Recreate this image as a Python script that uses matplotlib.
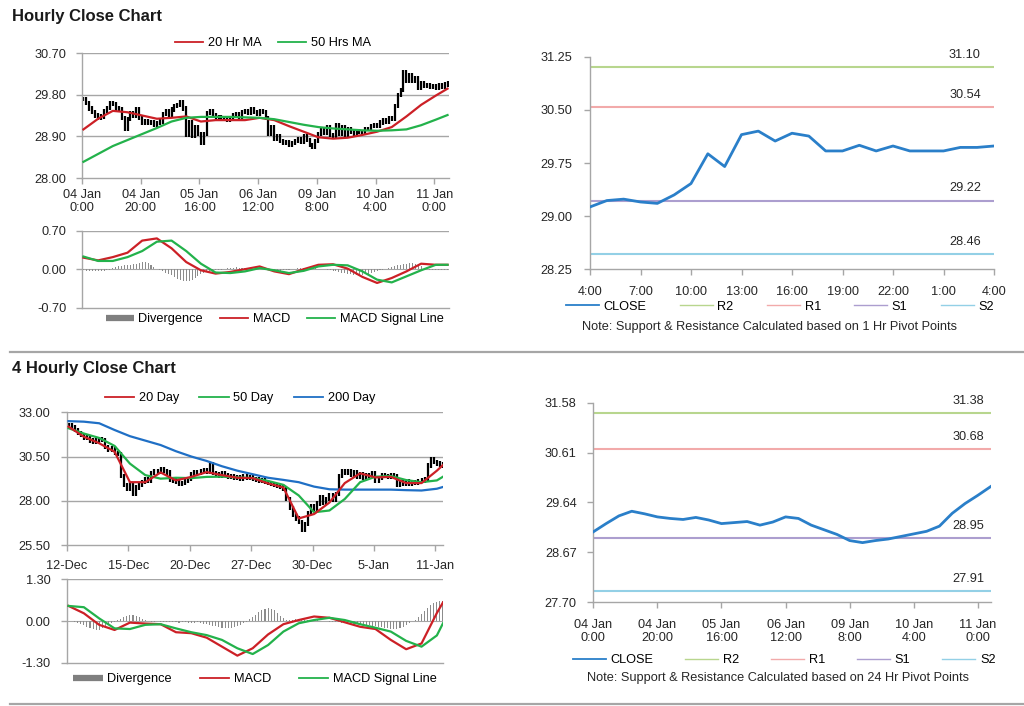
import matplotlib
matplotlib.use('Agg')
import matplotlib.pyplot as plt
from matplotlib.lines import Line2D
import numpy as np

plt.rcParams['font.family'] = ['Liberation Sans', 'DejaVu Sans']
FS = 9.2
plt.rcParams['font.size'] = FS

W, H = 1024, 706

# ---------------- data ----------------
# hourly bars (closes), 125 bars
h_close = [
    29.70, 29.62, 29.50, 29.42, 29.35, 29.30, 29.33, 29.45, 29.52, 29.62,
    29.60, 29.50, 29.48, 29.30, 29.05, 29.28, 29.40, 29.35, 29.48, 29.30,
    29.20, 29.22, 29.18, 29.20, 29.15, 29.18, 29.22, 29.38, 29.45, 29.35,
    29.48, 29.55, 29.58, 29.65, 29.50, 28.92, 29.20, 28.90, 29.10, 28.95,
    28.75, 28.95, 29.40, 29.45, 29.35, 29.30, 29.32, 29.28, 29.30, 29.25,
    29.30, 29.35, 29.38, 29.32, 29.42, 29.45, 29.40, 29.48, 29.42, 29.38,
    29.45, 29.42, 29.30, 28.95, 29.10, 28.85, 28.90, 28.80, 28.75, 28.78,
    28.72, 28.75, 28.80, 28.85, 28.78, 28.90, 28.82, 28.72, 28.68, 28.80,
    28.95, 29.05, 28.98, 29.10, 28.92, 28.88, 29.15, 28.95, 29.10, 28.90,
    29.05, 29.00, 28.95, 29.02, 29.00, 28.98, 29.05, 29.05, 29.12, 29.15,
    29.12, 29.20, 29.25, 29.22, 29.30, 29.28, 29.55, 29.80, 29.90, 30.28,
    30.10, 30.22, 30.10, 30.15, 29.95, 30.05, 29.98, 30.00, 29.97, 29.98,
    29.95, 30.00, 29.97, 30.02, 30.05]

h_ma_idx = [0, 5, 10, 15, 20, 25, 30, 35, 40, 45, 50, 55, 60, 65, 70, 75,
            80, 85, 90, 95, 100, 105, 110, 115, 120, 124]
h_ma20 = [29.05, 29.28, 29.45, 29.42, 29.35, 29.28, 29.30, 29.33, 29.22, 29.25,
          29.25, 29.25, 29.30, 29.25, 29.12, 29.00, 28.88, 28.85, 28.87, 28.93,
          29.00, 29.10, 29.33, 29.58, 29.78, 29.93]
h_ma50 = [28.35, 28.52, 28.69, 28.82, 28.95, 29.08, 29.22, 29.30, 29.32, 29.32,
          29.32, 29.31, 29.30, 29.27, 29.21, 29.15, 29.10, 29.07, 29.05, 29.03,
          29.02, 29.03, 29.05, 29.14, 29.26, 29.36]

h_macd = [0.21, 0.16, 0.22, 0.30, 0.52, 0.56, 0.38, 0.13, -0.02, -0.08,
          -0.05, 0.00, 0.05, -0.04, -0.09, 0.00, 0.08, 0.09, 0.01, -0.14,
          -0.25, -0.16, -0.04, 0.10, 0.08, 0.08]
h_signal = [0.23, 0.15, 0.15, 0.22, 0.33, 0.50, 0.52, 0.33, 0.10, -0.06,
            -0.07, -0.04, 0.02, -0.02, -0.07, -0.03, 0.05, 0.08, 0.07, -0.04,
            -0.19, -0.24, -0.13, -0.02, 0.08, 0.08]
h_div = [
    -0.02, -0.03, -0.03, -0.04, -0.04, -0.04, -0.03, -0.03, -0.02, -0.01,
    0.02, 0.04, 0.05, 0.06, 0.07, 0.08, 0.08, 0.09, 0.10, 0.11, 0.13, 0.14, 0.12, 0.08,
    0.04, 0.01, -0.01, -0.03,
    -0.06, -0.09, -0.11, -0.14, -0.17, -0.19, -0.21, -0.22, -0.21, -0.19, -0.16, -0.12, -0.09, -0.06,
    -0.04, -0.03, -0.02, -0.02, -0.01, -0.01, 0.00,
    0.02, 0.03, 0.03, 0.04, 0.03, 0.02, 0.02, 0.01, 0.01, 0.00,
    0.01, 0.02, 0.02, 0.01, -0.01, -0.02, -0.02, -0.03, -0.03, -0.02, -0.02, -0.01, 0.00, 0.01, 0.02, 0.03, 0.03,
    0.03, 0.03, 0.02, 0.02, 0.01, 0.01, 0.00,
    -0.01, -0.02, -0.03, -0.04, -0.05, -0.06, -0.07, -0.08, -0.09, -0.10, -0.11, -0.11, -0.10, -0.09, -0.08,
    -0.06, -0.05, -0.04, -0.02, -0.01, 0.00,
    0.02, 0.04, 0.05, 0.07, 0.08, 0.09, 0.10, 0.11, 0.11, 0.10, 0.08, 0.06, 0.03,
    0.01, -0.01, -0.02, -0.02, -0.02, -0.01, -0.02, -0.01]

h_ticklabels = ['04 Jan\n0:00', '04 Jan\n20:00', '05 Jan\n16:00', '06 Jan\n12:00',
                '09 Jan\n8:00', '10 Jan\n4:00', '11 Jan\n0:00']

# 1 hr pivot chart
p1_labels = ['4:00', '7:00', '10:00', '13:00', '16:00', '19:00', '22:00', '1:00', '4:00']
p1_close = [29.13, 29.22, 29.24, 29.20, 29.18, 29.30, 29.46, 29.88, 29.70, 30.15,
            30.20, 30.06, 30.17, 30.13, 29.92, 29.92, 30.00, 29.92, 29.99, 29.92,
            29.92, 29.92, 29.97, 29.97, 29.99]
p1_levels = {'R2': 31.10, 'R1': 30.54, 'S1': 29.22, 'S2': 28.46}

# 4 hourly bars, 123 bars
f_close = [
    32.30, 32.15, 32.00, 31.85, 31.70, 31.55, 31.60, 31.40, 31.35, 31.40,
    31.50, 31.45, 31.05, 30.85, 30.95, 30.70, 30.65, 29.40, 28.90, 28.70,
    28.95, 28.40, 28.75, 28.90, 29.05, 29.20, 29.15, 29.55, 29.70, 29.65,
    29.80, 29.70, 29.60, 29.20, 29.15, 29.05, 28.95, 29.00, 29.10, 29.25,
    29.50, 29.60, 29.55, 29.70, 29.75, 29.65, 30.05, 29.55, 29.50, 29.40,
    29.55, 29.45, 29.35, 29.40, 29.30, 29.35, 29.25, 29.40, 29.30, 29.35,
    29.25, 29.20, 29.10, 29.15, 29.05, 29.00, 28.95, 28.90, 28.85, 28.80,
    28.65, 28.10, 27.60, 27.20, 27.00, 26.80, 26.35, 26.70, 27.30, 27.70,
    27.55, 27.85, 28.20, 27.90, 28.10, 28.30, 28.05, 28.40, 29.40, 29.70,
    29.55, 29.70, 29.45, 29.60, 29.35, 29.50, 29.30, 29.45, 29.40, 29.55,
    29.10, 29.30, 29.45, 29.40, 29.35, 29.45, 29.40, 28.90, 29.05, 28.95,
    29.10, 28.95, 29.05, 29.00, 29.10, 29.15, 29.25, 30.00, 30.35, 30.20,
    30.10, 30.05, 30.00]

f_ma_idx = [0, 5, 10, 15, 20, 25, 30, 35, 40, 45, 50, 55, 60, 65, 70, 75,
            80, 85, 90, 95, 100, 105, 110, 115, 120, 122]
f_ma20 = [32.19, 31.62, 31.25, 30.77, 29.05, 29.05, 29.60, 29.15, 29.35, 29.62,
          29.45, 29.30, 29.28, 28.98, 28.75, 27.00, 27.25, 27.90, 29.00, 29.55,
          29.32, 29.35, 29.00, 29.00, 29.70, 30.02]
f_ma50 = [32.10, 31.80, 31.55, 31.10, 30.10, 29.45, 29.25, 29.30, 29.28, 29.35,
          29.36, 29.32, 29.28, 29.12, 28.90, 28.30, 27.35, 27.45, 28.10, 29.05,
          29.36, 29.40, 29.17, 29.05, 29.15, 29.36]
f_ma200 = [32.50, 32.47, 32.38, 32.00, 31.65, 31.40, 31.15, 30.80, 30.50, 30.25,
           29.95, 29.70, 29.50, 29.30, 29.18, 29.05, 28.80, 28.65, 28.63, 28.63,
           28.63, 28.63, 28.60, 28.58, 28.68, 28.78]

f_macd = [0.47, 0.24, -0.12, -0.28, -0.05, -0.08, -0.10, -0.35, -0.38, -0.52,
          -0.80, -1.08, -0.85, -0.42, -0.10, 0.03, 0.14, 0.10, -0.04, -0.18,
          -0.25, -0.59, -0.88, -0.70, 0.25, 0.58]
f_signal = [0.47, 0.43, 0.08, -0.23, -0.25, -0.12, -0.10, -0.23, -0.35, -0.44,
            -0.59, -0.85, -1.03, -0.75, -0.33, -0.07, 0.03, 0.10, 0.03, -0.10,
            -0.21, -0.33, -0.62, -0.80, -0.45, -0.07]
f_div = [
    0.00, -0.01, -0.03,
    -0.06, -0.10, -0.14, -0.18, -0.22, -0.25, -0.28, -0.27,
    -0.22, -0.16, -0.10, -0.05, -0.02,
    0.03, 0.07, 0.11, 0.15, 0.18, 0.19, 0.17, 0.12, 0.06,
    0.02, -0.01, -0.02, -0.02, -0.01, -0.02, -0.03, -0.02, -0.02,
    -0.03, -0.04, -0.05, -0.04, -0.03, -0.05, -0.06, -0.05, -0.04, -0.06,
    -0.08, -0.10, -0.12, -0.15, -0.17, -0.20, -0.22, -0.23, -0.23, -0.22, -0.20, -0.17, -0.12, -0.07, -0.02,
    0.05, 0.12, 0.20, 0.28, 0.34, 0.38, 0.40, 0.38, 0.33, 0.25, 0.16, 0.08,
    0.04, 0.03, 0.04, 0.05, 0.05, 0.04, 0.04, 0.03, 0.03, 0.02, 0.02, 0.01, 0.00, -0.01,
    -0.02, -0.03, -0.04, -0.04, -0.05, -0.06, -0.07, -0.07, -0.08, -0.09, -0.10, -0.11, -0.12,
    -0.14, -0.15, -0.17, -0.18, -0.20, -0.22, -0.23, -0.25, -0.25, -0.24, -0.22, -0.18, -0.12,
    -0.06, -0.01, 0.04,
    0.12, 0.22, 0.32, 0.42, 0.50, 0.56, 0.60, 0.62, 0.62]

f_ticklabels = ['12-Dec', '15-Dec', '20-Dec', '27-Dec', '30-Dec', '5-Jan', '11-Jan']

# 24 hr pivot chart
p24_idx = list(range(0, 125, 4))
p24_close = [29.07, 29.23, 29.38, 29.47, 29.42, 29.36, 29.33, 29.31, 29.35, 29.30,
             29.23, 29.25, 29.27, 29.20, 29.26, 29.36, 29.33, 29.20, 29.11, 29.02,
             28.90, 28.86, 28.90, 28.93, 28.98, 29.03, 29.08, 29.18, 29.43, 29.62,
             29.78, 29.95]
p24_levels = {'R2': 31.38, 'R1': 30.68, 'S1': 28.95, 'S2': 27.91}

# ---------------- style ----------------
RED = '#CC2026'
GREEN = '#23B24B'
BLUE = '#1F6FC5'
CLOSE_BLUE = '#2A7FC9'
GRID = '#A6A6A6'
DIVC = '#8C8C8C'
TXT = '#262626'
LEVEL_COLORS = {'R2': '#B8D68E', 'R1': '#F2AAAA', 'S1': '#AC9ECF', 'S2': '#93D0E6'}

fig = plt.figure(figsize=(W / 100, H / 100), dpi=100)


def box(l, t, r, b):
    return [l / W, 1 - b / H, (r - l) / W, (b - t) / H]


def style_axis(ax):
    for s in ['top', 'right']:
        ax.spines[s].set_visible(False)
    for s in ['left', 'bottom']:
        ax.spines[s].set_color(GRID)
        ax.spines[s].set_linewidth(1.0)
    ax.tick_params(colors=GRID, labelcolor=TXT, labelsize=FS, length=4, width=1)


def bar_chart(ax, close, wick):
    c = np.array(close)
    x = np.arange(len(c)) + 0.5
    prev = np.r_[c[0], c[:-1]]
    lo = np.minimum(prev, c) - wick
    hi = np.maximum(prev, c) + wick
    ax.vlines(x, lo, hi, color='black', lw=1.6, zorder=2)


def grid_lines(ax, vals):
    for v in vals:
        ax.axhline(v, color=GRID, lw=1.0, zorder=0)


def legend_row(ax, handles, labels, anchor, spacing, hlen=2.3):
    ax.legend(handles, labels, loc='center', bbox_to_anchor=anchor,
              ncol=len(labels), frameon=False, fontsize=FS, handlelength=hlen,
              handletextpad=0.35, columnspacing=spacing, borderpad=0)


# ---------- Hourly price ----------
axA = fig.add_axes(box(82, 53, 449, 178))
style_axis(axA)
grid_lines(axA, [28.90, 29.80, 30.70])
bar_chart(axA, h_close, 0.045)
axA.plot(np.array(h_ma_idx) + 0.5, h_ma20, color=RED, lw=1.6, zorder=3)
axA.plot(np.array(h_ma_idx) + 0.5, h_ma50, color=GREEN, lw=1.6, zorder=3)
axA.set_xlim(0, 125)
axA.set_ylim(28.00, 30.70)
axA.set_yticks([28.00, 28.90, 29.80, 30.70])
axA.set_yticklabels(['%.2f' % v for v in [28.00, 28.90, 29.80, 30.70]])
axA.set_xticks(range(0, 121, 20))
axA.set_xticklabels(h_ticklabels, linespacing=1.1)
axA.tick_params(axis='x', pad=4)
axA.tick_params(axis='y', pad=7)
legend_row(axA, [Line2D([], [], color=RED, lw=1.3), Line2D([], [], color=GREEN, lw=1.3)],
           ['20 Hr MA', '50 Hrs MA'], (0.52, 1.08), 1.3, 2.2)

# ---------- Hourly MACD ----------
axB = fig.add_axes(box(82, 230.7, 449, 307.7))
style_axis(axB)
grid_lines(axB, [0.70])
axB.axhline(0, color=GRID, lw=0.8, zorder=0)
axB.bar(np.arange(len(h_div)) + 0.5, h_div, width=0.35, color=DIVC, zorder=1)
axB.plot(np.array(h_ma_idx) + 0.5, h_macd, color=RED, lw=1.6, zorder=3)
axB.plot(np.array(h_ma_idx) + 0.5, h_signal, color=GREEN, lw=1.6, zorder=3)
axB.set_xlim(0, 125)
axB.set_ylim(-0.70, 0.70)
axB.set_yticks([-0.70, 0.0, 0.70])
axB.set_yticklabels(['-0.70', '0.00', '0.70'])
axB.set_xticks([])
axB.tick_params(axis='y', pad=7)
legend_row(axB, [Line2D([], [], color='#7F7F7F', lw=4.5, solid_capstyle='butt'),
                 Line2D([], [], color=RED, lw=1.3), Line2D([], [], color=GREEN, lw=1.3)],
           ['Divergence', 'MACD', 'MACD Signal Line'], (0.525, -0.15), 1.35, 2.2)

# ---------- pivot chart helper ----------
def pivot_panel(ax, x, close, levels, label_x):
    style_axis(ax)
    for k in ['R2', 'R1', 'S1', 'S2']:
        ax.axhline(levels[k], color=LEVEL_COLORS[k], lw=1.5, zorder=1)
        ax.annotate('%.2f' % levels[k], xy=(label_x, levels[k]),
                    xycoords=('axes fraction', 'data'), xytext=(0, 4.5),
                    textcoords='offset points', ha='center', va='bottom',
                    color=TXT, fontsize=FS)
    ax.plot(x, close, color=CLOSE_BLUE, lw=2.0, zorder=3)
    handles = [Line2D([], [], color=CLOSE_BLUE, lw=1.3)] + \
              [Line2D([], [], color=LEVEL_COLORS[k], lw=1.0) for k in ['R2', 'R1', 'S1', 'S2']]
    return handles


# ---------- 1 hr pivot ----------
axC = fig.add_axes(box(590, 56.7, 994, 269.3))
hC = pivot_panel(axC, range(len(p1_close)), p1_close, p1_levels, 0.928)
axC.set_xlim(0, 24)
axC.set_ylim(28.25, 31.25)
axC.set_yticks([28.25, 29.00, 29.75, 30.50, 31.25])
axC.set_yticklabels(['%.2f' % v for v in [28.25, 29.00, 29.75, 30.50, 31.25]])
axC.set_xticks(range(0, 25, 3))
axC.set_xticklabels(p1_labels)
axC.tick_params(axis='x', pad=8)
axC.tick_params(axis='y', pad=9)
legend_row(axC, hC, ['CLOSE', 'R2', 'R1', 'S1', 'S2'], (0.47, -0.176), 2.6, 2.6)
axC.text(0.445, -0.27, 'Note: Support & Resistance Calculated based on 1 Hr Pivot Points',
         transform=axC.transAxes, ha='center', va='center', fontsize=FS, color=TXT)

# ---------- 4 hourly price ----------
axD = fig.add_axes(box(67, 412.3, 443, 545))
style_axis(axD)
grid_lines(axD, [28.00, 30.50, 33.00])
bar_chart(axD, f_close, 0.12)
axD.plot(np.array(f_ma_idx) + 0.5, f_ma200, color=BLUE, lw=1.6, zorder=3)
axD.plot(np.array(f_ma_idx) + 0.5, f_ma50, color=GREEN, lw=1.6, zorder=3)
axD.plot(np.array(f_ma_idx) + 0.5, f_ma20, color=RED, lw=1.6, zorder=4)
axD.set_xlim(0, 122.5)
axD.set_ylim(25.50, 33.00)
axD.set_yticks([25.50, 28.00, 30.50, 33.00])
axD.set_yticklabels(['%.2f' % v for v in [25.50, 28.00, 30.50, 33.00]])
axD.set_xticks(range(0, 121, 20))
axD.set_xticklabels(f_ticklabels)
axD.tick_params(axis='x', pad=7)
axD.tick_params(axis='y', pad=8)
legend_row(axD, [Line2D([], [], color=RED, lw=1.3), Line2D([], [], color=GREEN, lw=1.3),
                 Line2D([], [], color=BLUE, lw=1.3)],
           ['20 Day', '50 Day', '200 Day'], (0.46, 1.105), 1.6, 2.3)

# ---------- 4 hourly MACD ----------
axE = fig.add_axes(box(67, 579.3, 443, 662.7))
style_axis(axE)
grid_lines(axE, [1.30])
axE.axhline(0, color=GRID, lw=0.8, zorder=0)
axE.bar(np.arange(len(f_div)) + 0.5, f_div, width=0.35, color=DIVC, zorder=1)
axE.plot(np.array(f_ma_idx) + 0.5, f_macd, color=RED, lw=1.6, zorder=3)
axE.plot(np.array(f_ma_idx) + 0.5, f_signal, color=GREEN, lw=1.6, zorder=3)
axE.set_xlim(0, 122.5)
axE.set_ylim(-1.30, 1.30)
axE.set_yticks([-1.30, 0.0, 1.30])
axE.set_yticklabels(['-1.30', '0.00', '1.30'])
axE.set_xticks([])
axE.tick_params(axis='y', pad=8)
legend_row(axE, [Line2D([], [], color='#7F7F7F', lw=4.5, solid_capstyle='butt'),
                 Line2D([], [], color=RED, lw=1.3), Line2D([], [], color=GREEN, lw=1.3)],
           ['Divergence', 'MACD', 'MACD Signal Line'], (0.5, -0.2), 2.2, 2.3)

# ---------- 24 hr pivot ----------
axF = fig.add_axes(box(593.3, 402.7, 990.7, 602.3))
hF = pivot_panel(axF, p24_idx, p24_close, p24_levels, 0.943)
axF.set_xlim(0, 124)
axF.set_ylim(27.70, 31.58)
axF.set_yticks([27.70, 28.67, 29.64, 30.61, 31.58])
axF.set_yticklabels(['%.2f' % v for v in [27.70, 28.67, 29.64, 30.61, 31.58]])
axF.set_xticks(range(0, 121, 20))
axF.set_xticklabels(h_ticklabels, linespacing=1.15)
axF.tick_params(axis='x', pad=8)
axF.tick_params(axis='y', pad=8)
legend_row(axF, hF, ['CLOSE', 'R2', 'R1', 'S1', 'S2'], (0.48, -0.29), 2.5, 2.6)
axF.text(0.465, -0.38, 'Note: Support & Resistance Calculated based on 24 Hr Pivot Points',
         transform=axF.transAxes, ha='center', va='center', fontsize=FS, color=TXT)

# ---------- titles and separators ----------
fig.text(12 / W, 1 - 16 / H, 'Hourly Close Chart', fontsize=12, fontweight='bold',
         va='center', ha='left', color='#1A1A1A')
fig.text(12 / W, 1 - 369 / H, '4 Hourly Close Chart', fontsize=12, fontweight='bold',
         va='center', ha='left', color='#1A1A1A')
for yy in [352, 704]:
    fig.add_artist(Line2D([10 / W, 1.0], [1 - yy / H, 1 - yy / H], color='#A6A6A6',
                          lw=1.6, transform=fig.transFigure))

fig.savefig('out.png', dpi=100)
